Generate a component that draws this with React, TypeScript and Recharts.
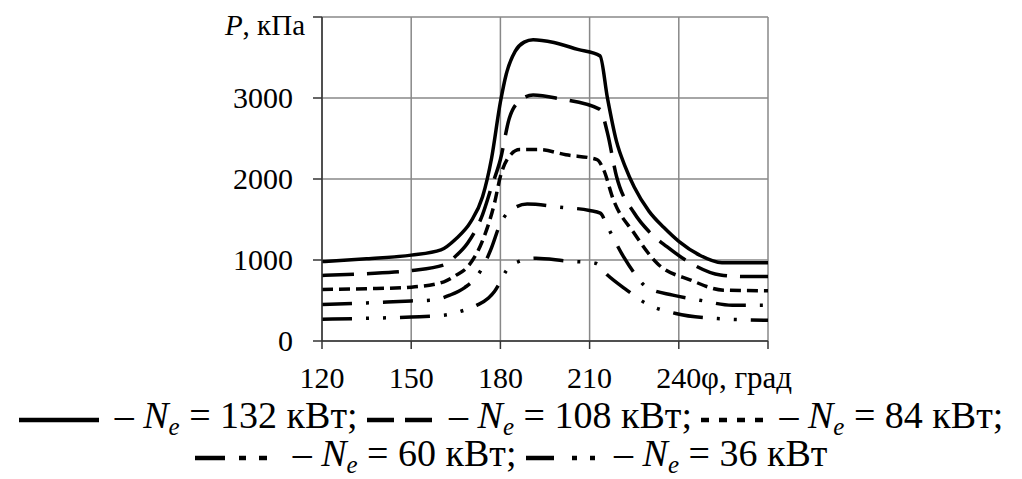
import React from "react";
import { LineChart, Line, XAxis, YAxis, CartesianGrid } from "recharts";

const xTicks = [120, 150, 180, 210, 240, 270];
const yTicks = [0, 1000, 2000, 3000, 4000];

// P, kPa vs crank angle for each engine power
const ne132 = [
  { phi: 120, p: 980 }, { phi: 135, p: 1015 }, { phi: 150, p: 1060 }, { phi: 160, p: 1125 },
  { phi: 165, p: 1260 }, { phi: 170, p: 1470 }, { phi: 174, p: 1780 }, { phi: 177, p: 2250 },
  { phi: 180, p: 2950 }, { phi: 182, p: 3300 }, { phi: 185, p: 3580 }, { phi: 188, p: 3690 },
  { phi: 191, p: 3720 }, { phi: 198, p: 3685 }, { phi: 206, p: 3600 }, { phi: 213.5, p: 3520 },
  { phi: 216, p: 3000 }, { phi: 219, p: 2470 }, { phi: 222, p: 2150 }, { phi: 225, p: 1900 },
  { phi: 230, p: 1600 }, { phi: 235, p: 1400 }, { phi: 240, p: 1230 }, { phi: 247, p: 1060 },
  { phi: 254.5, p: 967 }, { phi: 270, p: 967 },
];

const ne108 = [
  { phi: 120, p: 810 }, { phi: 135, p: 830 }, { phi: 150, p: 870 }, { phi: 161, p: 940 },
  { phi: 165, p: 1050 }, { phi: 169, p: 1210 }, { phi: 174, p: 1560 }, { phi: 177, p: 1900 },
  { phi: 180, p: 2240 }, { phi: 183, p: 2750 }, { phi: 186, p: 2950 }, { phi: 191, p: 3036 },
  { phi: 200, p: 2990 }, { phi: 213.5, p: 2860 }, { phi: 216, p: 2570 }, { phi: 219, p: 2040 },
  { phi: 225, p: 1580 }, { phi: 230, p: 1350 }, { phi: 236, p: 1165 }, { phi: 244, p: 960 },
  { phi: 254, p: 814 }, { phi: 262, p: 795 }, { phi: 270, p: 795 },
];

const ne84 = [
  { phi: 120, p: 637 }, { phi: 135, p: 645 }, { phi: 150, p: 665 }, { phi: 161, p: 731 },
  { phi: 165, p: 810 }, { phi: 169, p: 917 }, { phi: 174, p: 1240 }, { phi: 178, p: 1700 },
  { phi: 180, p: 2032 }, { phi: 183, p: 2280 }, { phi: 186.5, p: 2363 }, { phi: 193, p: 2363 },
  { phi: 202, p: 2300 }, { phi: 212.5, p: 2240 }, { phi: 214.7, p: 2115 }, { phi: 218, p: 1744 },
  { phi: 225, p: 1330 }, { phi: 232.7, p: 960 }, { phi: 244, p: 752 }, { phi: 255, p: 628 },
  { phi: 270, p: 620 },
];

const ne60 = [
  { phi: 120, p: 450 }, { phi: 135, p: 470 }, { phi: 150, p: 495 }, { phi: 157, p: 504 },
  { phi: 163, p: 566 }, { phi: 168, p: 660 }, { phi: 172, p: 793 }, { phi: 175, p: 980 },
  { phi: 177, p: 1150 }, { phi: 180, p: 1450 }, { phi: 183, p: 1600 }, { phi: 189, p: 1690 },
  { phi: 200, p: 1653 }, { phi: 210, p: 1611 }, { phi: 213.6, p: 1578 }, { phi: 216, p: 1413 },
  { phi: 221.4, p: 1041 }, { phi: 225, p: 840 }, { phi: 229, p: 669 }, { phi: 238, p: 566 },
  { phi: 247, p: 504 }, { phi: 258, p: 442 }, { phi: 270, p: 442 },
];

const ne36 = [
  { phi: 120, p: 270 }, { phi: 135, p: 280 }, { phi: 150, p: 297 }, { phi: 161, p: 318 },
  { phi: 167, p: 370 }, { phi: 172, p: 440 }, { phi: 176, p: 530 }, { phi: 178, p: 610 },
  { phi: 180, p: 731 }, { phi: 182, p: 870 }, { phi: 186, p: 979 }, { phi: 192, p: 1021 },
  { phi: 202, p: 988 }, { phi: 212, p: 959 }, { phi: 216, p: 814 }, { phi: 222.5, p: 628 },
  { phi: 229, p: 463 }, { phi: 239, p: 340 }, { phi: 253, p: 277 }, { phi: 270, p: 256 },
];

const FONT = "'Liberation Serif', 'Times New Roman', serif";

const XTick = (props: any) => {
  const { x, payload } = props;
  const base = 388; // baseline of the x tick labels
  if (payload.value === 270) {
    return (
      <text x={x - 67} y={base} textAnchor="start" style={{ fontFamily: FONT }} fontSize={31} fill="#000">
        φ, град
      </text>
    );
  }
  return (
    <text x={x} y={base} textAnchor="middle" style={{ fontFamily: FONT }} fontSize={30} fill="#000">
      {payload.value}
    </text>
  );
};

const YTick = (props: any) => {
  const { x, y, payload } = props;
  if (payload.value === 4000) {
    return (
      <text x={x + 12} y={y + 18} textAnchor="end" style={{ fontFamily: FONT }} fontSize={29} fill="#000">
        <tspan fontStyle="italic">P</tspan>, кПа
      </text>
    );
  }
  return (
    <text x={x} y={y + 10} textAnchor="end" style={{ fontFamily: FONT }} fontSize={30} fill="#000">
      {payload.value}
    </text>
  );
};

const Icon = ({ dash, w }: { dash?: string; w: number }) => (
  <svg width={w} height={20} style={{ verticalAlign: "middle", marginRight: 16 }}>
    <line x1={0} y1={11} x2={w} y2={11} stroke="#000" strokeWidth={4.5} strokeDasharray={dash} />
  </svg>
);

const Item = (props: { dash?: string; w: number; value: string; last: string }) => (
  <span style={{ whiteSpace: "nowrap" }}>
    <Icon dash={props.dash} w={props.w} />
    {"– "}
    <i>N</i>
    <sub style={{ fontSize: 25, fontStyle: "italic", verticalAlign: -7, lineHeight: 0 }}>e</sub>
    {" = " + props.value + " кВт" + props.last}
  </span>
);

const rowStyle: React.CSSProperties = {
  position: "absolute",
  left: 0,
  width: 1022,
  height: 36,
  textAlign: "center",
  whiteSpace: "nowrap",
  fontSize: 38,
  lineHeight: "36px",
  color: "#000",
};

export default function App() {
  return (
    <div style={{ position: "absolute", left: 0, top: 0, width: 1022, height: 479, background: "#fff", fontFamily: FONT, overflow: "hidden" }}>
      <LineChart
        width={1022}
        height={479}
        margin={{ top: 17, right: 254, left: 262, bottom: 98 }}
        style={{ fontFamily: FONT }}
      >
        <CartesianGrid stroke="#888" strokeWidth={1.5} />
        <XAxis
          dataKey="phi"
          type="number"
          domain={[120, 270]}
          ticks={xTicks}
          allowDataOverflow
          stroke="#333"
          strokeWidth={1.5}
          tickSize={8}
          tickMargin={2}
          height={40}
          tick={<XTick />}
        />
        <YAxis
          type="number"
          domain={[0, 4000]}
          ticks={yTicks}
          allowDataOverflow
          width={60}
          stroke="#333"
          strokeWidth={1.5}
          tickSize={9}
          tickMargin={20}
          tick={<YTick />}
        />
        <Line data={ne132} dataKey="p" type="monotone" stroke="#000" strokeWidth={3.5} dot={false} isAnimationActive={false} />
        <Line data={ne108} dataKey="p" type="monotone" stroke="#000" strokeWidth={3.5} strokeDasharray="32 13" dot={false} isAnimationActive={false} />
        <Line data={ne84} dataKey="p" type="monotone" stroke="#000" strokeWidth={3.5} strokeDasharray="11 6" dot={false} isAnimationActive={false} />
        <Line data={ne60} dataKey="p" type="monotone" stroke="#000" strokeWidth={3.5} strokeDasharray="30 14 3 14" dot={false} isAnimationActive={false} />
        <Line data={ne36} dataKey="p" type="monotone" stroke="#000" strokeWidth={3.5} strokeDasharray="30 14 3 14 3 14" dot={false} isAnimationActive={false} />
      </LineChart>
      <div style={{ ...rowStyle, top: 397 }}>
        <Item w={80} value="132" last=";" /> <Item w={66} dash="27 11" value="108" last=";" />{" "}
        <Item w={62} dash="8 10" value="84" last=";" />
      </div>
      <div style={{ ...rowStyle, top: 435 }}>
        <Item w={82} dash="30 14 7 13 8 12" value="60" last=";" /> <Item w={72} dash="28 18 5 13 5 12" value="36" last="" />
      </div>
    </div>
  );
}
